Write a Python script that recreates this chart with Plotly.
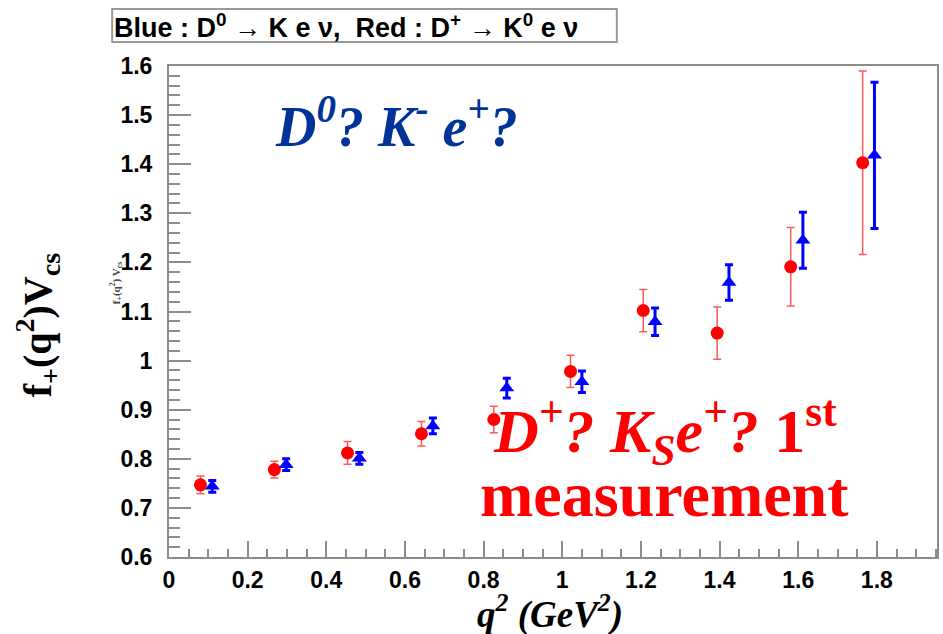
import plotly.graph_objects as go

# f+(q^2)|Vcs| per q^2 bin
q2_red = [0.080, 0.268, 0.454, 0.642, 0.826, 1.021, 1.206, 1.394, 1.581, 1.764]
f_red = [0.747, 0.778, 0.812, 0.851, 0.880, 0.978, 1.102, 1.056, 1.191, 1.403]
err_red = [0.018, 0.017, 0.023, 0.025, 0.027, 0.033, 0.043, 0.053, 0.080, 0.187]

q2_blue = [0.110, 0.298, 0.484, 0.671, 0.859, 1.050, 1.236, 1.424, 1.612, 1.794]
f_blue = [0.744, 0.788, 0.801, 0.867, 0.944, 0.957, 1.079, 1.159, 1.245, 1.418]
err_blue = [0.012, 0.012, 0.012, 0.016, 0.020, 0.022, 0.028, 0.036, 0.057, 0.149]

W, H = 943, 634
ML, MR, MT, MB = 169, 4, 66, 77
PW, PH = W - ML - MR, H - MT - MB


def px(x):
    return (x - ML) / PW


def py(y):
    return (H - MB - y) / PH


fig = go.Figure()

fig.add_trace(go.Scatter(
    x=q2_red, y=f_red, mode="markers",
    marker=dict(symbol="circle", size=13, color="#ff0000"),
    error_y=dict(type="data", array=err_red, color="#ff5a5a",
                 thickness=1.5, width=4),
    showlegend=False,
))
fig.add_trace(go.Scatter(
    x=q2_blue, y=f_blue, mode="markers",
    marker=dict(symbol="triangle-up", size=13, color="#0000ff"),
    error_y=dict(type="data", array=err_blue, color="#0000ff",
                 thickness=3, width=4),
    showlegend=False,
))

axis_common = dict(
    showgrid=False, zeroline=False, showline=True, linecolor="#8c8c8c",
    linewidth=2, mirror=True, ticks="inside", tickcolor="#8c8c8c",
    tickwidth=1.5,
    tickfont=dict(family="Liberation Sans, Arial", size=23, color="black",
                  weight="bold"),
)

fig.update_xaxes(
    range=[0, 1.953], tick0=0, dtick=0.2, ticklen=16,
    minor=dict(dtick=0.05, ticklen=8, tickcolor="#8c8c8c", ticks="inside"),
    ticklabelstandoff=1,
    **axis_common,
)
fig.update_yaxes(
    range=[0.6, 1.6], tick0=0.6, dtick=0.1, ticklen=22,
    minor=dict(dtick=0.02, ticklen=11, tickcolor="#8c8c8c", ticks="inside"),
    ticklabelstandoff=10,
    **axis_common,
)

annotations = [
    # header box text
    dict(x=px(113), y=py(26), xanchor="left", yanchor="middle",
         text="<b>Blue : D<sup>0</sup> \u2192 K e \u03bd,  Red : D<sup>+</sup> \u2192 K<sup>0</sup> e \u03bd</b>",
         font=dict(family="Liberation Sans, Arial", size=27, color="black")),
    # y title
    dict(x=px(37), y=py(325), xanchor="center", yanchor="middle", textangle=-90,
         text="<b>f<sub>+</sub>(q<sup>2</sup>)V<sub>cs</sub></b>",
         font=dict(family="Liberation Serif, Times New Roman", size=40, color="black")),
    # small original axis label
    dict(x=px(116), y=py(283), xanchor="center", yanchor="middle", textangle=-90,
         text="<b>f<sub>+</sub>(q<sup>2</sup>) V<sub>cs</sub></b>",
         font=dict(family="Liberation Serif, Times New Roman", size=11, color="#444444")),
    # x title
    dict(x=px(551), y=py(612), xanchor="center", yanchor="middle",
         text="<b><i>q<sup>2</sup> (GeV<sup>2</sup>)</i></b>",
         font=dict(family="Liberation Serif, Times New Roman", size=37, color="black")),
    # channel labels
    dict(x=px(397), y=py(122), xanchor="center", yanchor="middle",
         text="<b><i>D<sup>0</sup>? K<sup>-</sup> e<sup>+</sup>?</i></b>",
         font=dict(family="Liberation Serif, Times New Roman", size=56, color="#003399")),
    dict(x=px(666), y=py(431), xanchor="center", yanchor="middle",
         text="<b><i>D<sup>+</sup>? K<sub>S</sub>e<sup>+</sup>?</i> 1<sup>st</sup></b>",
         font=dict(family="Liberation Serif, Times New Roman", size=62, color="#ff0000")),
    dict(x=px(666), y=py(494), xanchor="center", yanchor="middle",
         text="<b>measurement</b>",
         font=dict(family="Liberation Serif, Times New Roman", size=64, color="#ff0000")),
]
for a in annotations:
    a.update(xref="paper", yref="paper", showarrow=False, borderpad=0)

fig.update_layout(
    width=W, height=H,
    margin=dict(l=ML, r=MR, t=MT, b=MB),
    paper_bgcolor="white", plot_bgcolor="white",
    annotations=annotations,
    shapes=[dict(type="rect", xref="paper", yref="paper",
                 x0=px(112), x1=px(618), y0=py(42), y1=py(9),
                 line=dict(color="#999999", width=2), fillcolor="rgba(0,0,0,0)")],
)

fig.write_html("out.html")
